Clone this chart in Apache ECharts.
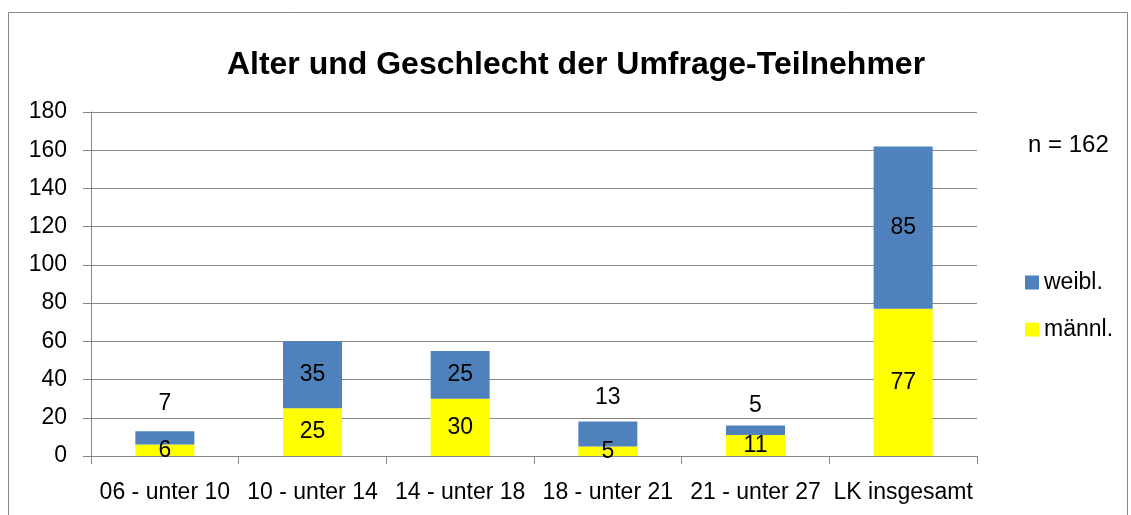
<!DOCTYPE html>
<html>
<head>
<meta charset="utf-8">
<script src="https://cdn.jsdelivr.net/npm/echarts@6/dist/echarts.min.js"></script>
<style>
  html, body { margin: 0; padding: 0; background: #fff; }
  #chart { width: 1131px; height: 515px; }
</style>
</head>
<body>
<div id="chart"></div>
<script>
var categories = ['06 - unter 10', '10 - unter 14', '14 - unter 18', '18 - unter 21', '21 - unter 27', 'LK insgesamt'];
var maennl = [6, 25, 30, 5, 11, 77];
var weibl = [7, 35, 25, 13, 5, 85];
// blue values that sit above the bar instead of inside
var weiblOutside = [0, 3, 4];
var outsideDist = [16, 0, 0, 12, 8, 0];
var yTicks = { min: 0, max: 180, interval: 20 };

var font = 'Liberation Sans, Arial, sans-serif';
var chart = echarts.init(document.getElementById('chart'));

var weiblData = weibl.map(function (v, i) {
  if (weiblOutside.indexOf(i) >= 0) {
    return { value: v, label: { position: 'top', distance: outsideDist[i] } };
  }
  return v;
});

var option = {
  animation: false,
  title: {
    text: 'Alter und Geschlecht der Umfrage-Teilnehmer',
    left: 571,
    textAlign: 'center',
    top: 44,
    textStyle: { fontFamily: font, fontSize: 32, fontWeight: 'bold', color: '#000' }
  },
  grid: { left: 91, right: 154, top: 112, bottom: 59 },
  legend: {
    orient: 'vertical',
    left: 1020,
    top: 266,
    icon: 'rect',
    itemWidth: 14,
    itemHeight: 14,
    itemGap: 24,
    data: ['weibl.', 'männl.'],
    textStyle: { fontFamily: font, fontSize: 23, color: '#000' }
  },
  graphic: [
    {
      type: 'rect',
      shape: { x: 8.5, y: 12.5, width: 1119, height: 510 },
      style: { fill: 'none', stroke: '#888', lineWidth: 1 }
    },
    {
      type: 'text',
      left: 1028,
      top: 133,
      style: { text: 'n = 162', fontFamily: font, fontSize: 24, fill: '#000' }
    }
  ],
  xAxis: {
    type: 'category',
    data: categories,
    axisLine: { lineStyle: { color: '#868686' } },
    axisTick: { show: true, length: 8, lineStyle: { color: '#868686' } },
    axisLabel: { fontFamily: font, fontSize: 23, color: '#000', margin: 25, interval: 0 }
  },
  yAxis: {
    type: 'value',
    min: yTicks.min,
    max: yTicks.max,
    interval: yTicks.interval,
    axisLine: { show: true, lineStyle: { color: '#868686' } },
    axisTick: { show: true, length: 8, lineStyle: { color: '#868686' } },
    axisLabel: { fontFamily: font, fontSize: 23, color: '#000', margin: 24 },
    splitLine: { lineStyle: { color: '#868686', width: 1 } }
  },
  series: [
    {
      name: 'männl.',
      type: 'bar',
      stack: 'total',
      barWidth: 59,
      data: maennl,
      itemStyle: { color: '#ffff00' },
      label: { show: true, position: 'inside', fontFamily: font, fontSize: 23, color: '#000' }
    },
    {
      name: 'weibl.',
      type: 'bar',
      stack: 'total',
      barWidth: 59,
      data: weiblData,
      itemStyle: { color: '#4f81bd' },
      label: { show: true, position: 'inside', fontFamily: font, fontSize: 23, color: '#000' }
    }
  ]
};
chart.setOption(option);
</script>
</body>
</html>
